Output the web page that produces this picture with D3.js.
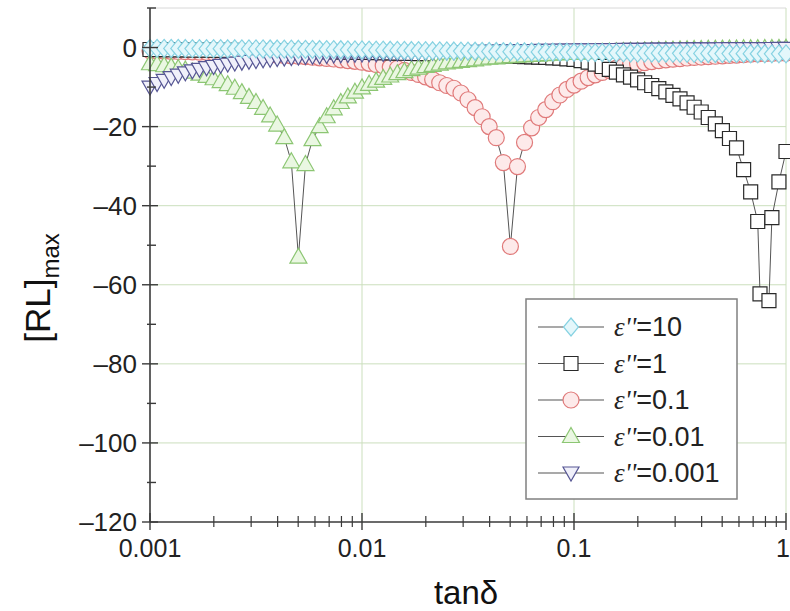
<!DOCTYPE html>
<html><head><meta charset="utf-8">
<script src="https://cdn.jsdelivr.net/npm/d3@7"></script>
<style>
html,body{margin:0;padding:0;background:#fff;}
svg{display:block;font-family:"Liberation Sans",Arial,sans-serif;}
</style></head>
<body><svg id="chart" width="790" height="611"></svg>
<script>
// tanδ sample grid (1/30 decade)
const tanD = [0.001,0.00108,0.001166,0.001259,0.001359,0.001468,0.001585,0.001711,0.001848,0.001995,
0.002154,0.002326,0.002512,0.002712,0.002929,0.003162,0.003415,0.003687,0.003981,0.004299,
0.004642,0.005012,0.005412,0.005843,0.00631,0.006813,0.007356,0.007943,0.008577,0.009261,
0.01,0.0108,0.01166,0.01259,0.01359,0.01468,0.01585,0.01711,0.01848,0.01995,
0.02154,0.02326,0.02512,0.02712,0.02929,0.03162,0.03415,0.03687,0.03981,0.04299,
0.04642,0.05012,0.05412,0.05843,0.0631,0.06813,0.07356,0.07943,0.08577,0.09261,
0.1,0.108,0.1166,0.1259,0.1359,0.1468,0.1585,0.1711,0.1848,0.1995,
0.2154,0.2326,0.2512,0.2712,0.2929,0.3162,0.3415,0.3687,0.3981,0.4299,
0.4642,0.5012,0.5412,0.5843,0.631,0.6813,0.7356,0.7943,0.8577,0.9261,1];

const rl10 = [-0.20,-0.21,-0.22,-0.23,-0.24,-0.25,-0.26,-0.27,-0.28,-0.29,
-0.30,-0.31,-0.32,-0.33,-0.34,-0.35,-0.36,-0.37,-0.38,-0.40,
-0.42,-0.44,-0.46,-0.48,-0.50,-0.52,-0.54,-0.56,-0.58,-0.60,
-0.62,-0.64,-0.66,-0.68,-0.70,-0.72,-0.74,-0.76,-0.78,-0.80,
-0.82,-0.84,-0.86,-0.88,-0.90,-0.92,-0.94,-0.96,-0.98,-1.00,
-1.02,-1.04,-1.06,-1.08,-1.10,-1.12,-1.14,-1.16,-1.18,-1.20,
-1.22,-1.24,-1.26,-1.28,-1.30,-1.32,-1.34,-1.36,-1.38,-1.40,
-1.41,-1.42,-1.43,-1.44,-1.45,-1.46,-1.47,-1.48,-1.49,-1.50,
-1.51,-1.52,-1.53,-1.54,-1.55,-1.56,-1.57,-1.58,-1.59,-1.60,-1.60];

// ε''=1 uses the grid up to 0.7356 then its own points near the dip
const tanD1 = tanD.slice(0, 87).concat([0.754, 0.831, 0.858, 0.926, 1.0]);
const rl1 = [-0.50,-0.52,-0.54,-0.56,-0.58,-0.60,-0.62,-0.64,-0.66,-0.68,
-0.70,-0.72,-0.74,-0.76,-0.78,-0.80,-0.82,-0.84,-0.86,-0.88,
-0.90,-0.93,-0.96,-0.99,-1.02,-1.05,-1.08,-1.11,-1.14,-1.17,
-1.20,-1.24,-1.28,-1.32,-1.36,-1.40,-1.44,-1.48,-1.52,-1.56,
-1.60,-1.65,-1.70,-1.75,-1.80,-1.85,-1.90,-1.95,-2.00,-2.05,
-2.10,-2.16,-2.22,-2.28,-2.34,-2.40,-2.50,-2.60,-2.70,-2.85,
-3.0,-3.3,-3.7,-4.2,-4.8,-5.5,-6.2,-6.9,-7.5,-8.2,
-8.9,-9.6,-10.4,-11.2,-12.1,-13.0,-14.0,-15.1,-16.3,-17.7,
-19.3,-21.0,-23.0,-25.4,-30.9,-36.5,-44.0,
-62.3,-64.0,-43.0,-34.0,-26.3];

const rl01 = [-0.80,-0.85,-0.90,-0.95,-1.00,-1.05,-1.10,-1.15,-1.20,-1.25,
-1.30,-1.35,-1.40,-1.50,-1.55,-1.60,-1.70,-1.80,-1.90,-2.00,
-2.10,-2.20,-2.30,-2.45,-2.60,-2.75,-2.90,-3.10,-3.30,-3.50,
-3.70,-4.00,-4.30,-4.60,-4.95,-5.30,-5.80,-6.30,-6.80,-7.40,
-8.10,-8.90,-9.60,-10.3,-11.5,-13.2,-15.2,-17.5,-20.0,-22.8,
-29.1,-50.3,-30.1,-24.0,-20.3,-17.7,-15.7,-13.7,-12.0,-10.6,
-9.5,-8.5,-7.6,-6.9,-6.3,-5.8,-5.2,-4.8,-4.4,-4.1,
-3.8,-3.55,-3.3,-3.1,-2.95,-2.8,-2.65,-2.5,-2.4,-2.3,
-2.2,-2.1,-2.0,-1.9,-1.8,-1.7,-1.62,-1.56,-1.5,-1.45,-1.4];

const rl001 = [-4.1,-4.3,-4.6,-4.9,-5.3,-5.7,-6.2,-6.7,-7.3,-7.9,
-8.6,-9.4,-10.3,-11.4,-12.6,-13.9,-15.4,-17.3,-19.6,-22.8,
-28.9,-53.0,-29.6,-23.3,-20.0,-17.5,-15.5,-13.9,-12.5,-11.3,
-10.2,-9.3,-8.5,-7.8,-7.2,-6.6,-6.1,-5.6,-5.2,-4.8,
-4.5,-4.2,-3.9,-3.7,-3.5,-3.3,-3.1,-2.9,-2.7,-2.6,
-2.4,-2.3,-2.2,-2.1,-2.0,-1.9,-1.8,-1.7,-1.6,-1.5,
-1.45,-1.4,-1.3,-1.25,-1.2,-1.1,-1.05,-1.0,-0.95,-0.9,
-0.85,-0.8,-0.75,-0.7,-0.65,-0.6,-0.55,-0.5,-0.48,-0.45,
-0.42,-0.4,-0.37,-0.35,-0.32,-0.3,-0.28,-0.26,-0.24,-0.22,-0.2];

const rl0001 = [-10.0,-9.1,-8.3,-7.6,-7.0,-6.4,-5.9,-5.5,-5.1,-4.8,
-4.5,-4.2,-3.95,-3.7,-3.5,-3.3,-3.1,-2.95,-2.8,-2.65,
-2.5,-2.4,-2.3,-2.2,-2.1,-2.0,-1.9,-1.85,-1.8,-1.7,
-1.65,-1.6,-1.55,-1.5,-1.45,-1.4,-1.35,-1.3,-1.28,-1.25,
-1.2,-1.15,-1.1,-1.08,-1.05,-1.0,-0.97,-0.94,-0.91,-0.88,
-0.85,-0.82,-0.8,-0.77,-0.75,-0.72,-0.7,-0.68,-0.66,-0.64,
-0.62,-0.6,-0.58,-0.56,-0.54,-0.52,-0.5,-0.48,-0.46,-0.45,
-0.44,-0.42,-0.41,-0.4,-0.38,-0.37,-0.36,-0.35,-0.34,-0.33,
-0.32,-0.31,-0.3,-0.29,-0.28,-0.27,-0.26,-0.25,-0.24,-0.23,-0.22];

const seriesNames = ["10", "1", "0.1", "0.01", "0.001"];
const xTickLabels = ["0.001", "0.01", "0.1", "1"];
const yTickValues = [-120, -100, -80, -60, -40, -20, 0];

const series = [
  {name: "10", x: tanD, y: rl10, shape: "diamond", stroke: "#86d2e2", fill: "#e4f7fb"},
  {name: "1", x: tanD1, y: rl1, shape: "square", stroke: "#2a2a2a", fill: "#ffffff"},
  {name: "0.1", x: tanD, y: rl01, shape: "circle", stroke: "#e07a7a", fill: "#fdeaea"},
  {name: "0.01", x: tanD, y: rl001, shape: "triangle", stroke: "#8cc673", fill: "#eaf7e2"},
  {name: "0.001", x: tanD, y: rl0001, shape: "triangleDown", stroke: "#565694", fill: "#f0f0fa"}
];
const drawOrder = ["0.1", "1", "0.01", "0.001", "10"];

const shapes = {
  diamond: "M0,-9L7.5,0L0,9L-7.5,0Z",
  square: "M-7,-7H7V7H-7Z",
  circle: "M8,0A8,8 0 1,1 -8,0A8,8 0 1,1 8,0Z",
  triangle: "M0,-9L8.5,6L-8.5,6Z",
  triangleDown: "M-8,-6L8,-6L0,8Z"
};

const svg = d3.select("#chart");
const L = 150, R = 786, T = 8, B = 522;
const x = d3.scaleLog().domain([0.001, 1]).range([L, R]);
const y = d3.scaleLinear().domain([-120, 10]).range([B, T]);
const grid = "#cbdfbd";
const axisCol = "#3a3a3a";

// grid
const g = svg.append("g");
g.selectAll(".vg").data([0.01, 0.1, 1]).join("line")
  .attr("x1", d => x(d)).attr("x2", d => x(d)).attr("y1", T).attr("y2", B)
  .attr("stroke", grid).attr("stroke-width", 1);
g.selectAll(".hg").data([-100, -80, -60, -40, -20, 0]).join("line")
  .attr("x1", L).attr("x2", R).attr("y1", d => y(d)).attr("y2", d => y(d))
  .attr("stroke", grid).attr("stroke-width", 1);
g.append("line").attr("x1", L).attr("x2", R).attr("y1", T).attr("y2", T)
  .attr("stroke", "#d8d8d8").attr("stroke-width", 1);

// series lines + markers
const line = d3.line().x(d => x(d[0])).y(d => y(d[1]));
drawOrder.forEach(nm => {
  const s = series.find(v => v.name === nm);
  const pts = s.x.map((xv, i) => [xv, s.y[i]]);
  const sg = svg.append("g");
  sg.append("path").attr("d", line(pts)).attr("fill", "none")
    .attr("stroke", "#555").attr("stroke-width", 1);
  sg.selectAll("path.m").data(pts).join("path").attr("class", "m")
    .attr("d", shapes[s.shape])
    .attr("transform", d => `translate(${x(d[0])},${y(d[1])})`)
    .attr("fill", s.fill).attr("stroke", s.stroke).attr("stroke-width", 1.2);
});

// axes
const yAxis = svg.append("g");
yAxis.append("line").attr("x1", L).attr("x2", L).attr("y1", T).attr("y2", B)
  .attr("stroke", axisCol).attr("stroke-width", 1.6);
yAxis.selectAll(".yt").data(yTickValues).join("line")
  .attr("x1", L - 8).attr("x2", L + 8).attr("y1", d => y(d)).attr("y2", d => y(d))
  .attr("stroke", axisCol).attr("stroke-width", 1.4);
yAxis.selectAll(".ym").data([-110, -90, -70, -50, -30, -10, 10]).join("line")
  .attr("x1", L - 3).attr("x2", L + 6).attr("y1", d => y(d)).attr("y2", d => y(d))
  .attr("stroke", axisCol).attr("stroke-width", 1.4);
yAxis.selectAll(".yl").data(yTickValues).join("text")
  .attr("x", L - 13).attr("y", d => y(d) + 9)
  .attr("text-anchor", "end").attr("font-size", 26).attr("fill", "#222")
  .text(d => d === 0 ? "0" : "\u2013" + Math.abs(d));

const xAxis = svg.append("g");
xAxis.append("line").attr("x1", L).attr("x2", R).attr("y1", B).attr("y2", B)
  .attr("stroke", axisCol).attr("stroke-width", 1.6);
const major = [0.001, 0.01, 0.1, 1];
const minor = [];
[0.001, 0.01, 0.1].forEach(dd => { for (let m = 2; m <= 9; m++) minor.push(dd * m); });
xAxis.selectAll(".xt").data(major).join("line")
  .attr("x1", d => x(d)).attr("x2", d => x(d)).attr("y1", B - 9).attr("y2", B + 8)
  .attr("stroke", axisCol).attr("stroke-width", 1.4);
xAxis.selectAll(".xm").data(minor).join("line")
  .attr("x1", d => x(d)).attr("x2", d => x(d)).attr("y1", B - 6).attr("y2", B + 5)
  .attr("stroke", axisCol).attr("stroke-width", 1.2);
xAxis.selectAll(".xl").data(major).join("text")
  .attr("x", d => d === 1 ? 776 : x(d)).attr("y", B + 35)
  .attr("text-anchor", d => d === 1 ? "start" : "middle")
  .attr("font-size", 25).attr("fill", "#222")
  .text((d, i) => xTickLabels[i]);

// axis titles
svg.append("text").attr("x", 466).attr("y", 604).attr("text-anchor", "middle")
  .attr("font-size", 33).attr("fill", "#111").text("tanδ");
const yt = svg.append("text").attr("transform", "translate(50,288) rotate(-90)")
  .attr("text-anchor", "middle").attr("font-size", 35).attr("fill", "#111");
yt.append("tspan").text("[RL]");
yt.append("tspan").attr("font-size", 24).attr("dy", 9).text("max");

// legend
const lg = svg.append("g");
lg.append("rect").attr("x", 526).attr("y", 299).attr("width", 211).attr("height", 200)
  .attr("fill", "#fff").attr("stroke", "#808080").attr("stroke-width", 1.5);
seriesNames.forEach((nm, i) => {
  const s = series.find(v => v.name === nm);
  const yy = 327 + i * 36.5;
  lg.append("line").attr("x1", 538).attr("x2", 604).attr("y1", yy).attr("y2", yy)
    .attr("stroke", "#555").attr("stroke-width", 1.2);
  lg.append("path").attr("d", shapes[s.shape]).attr("transform", `translate(571,${yy})`)
    .attr("fill", s.fill).attr("stroke", s.stroke).attr("stroke-width", 1.2);
  const t = lg.append("text").attr("x", 614).attr("y", yy + 9).attr("font-size", 27).attr("fill", "#222");
  t.append("tspan").attr("font-family", "'Liberation Serif',serif").attr("font-style", "italic").text("ε''");
  t.append("tspan").text("=" + nm);
});
</script></body></html>
